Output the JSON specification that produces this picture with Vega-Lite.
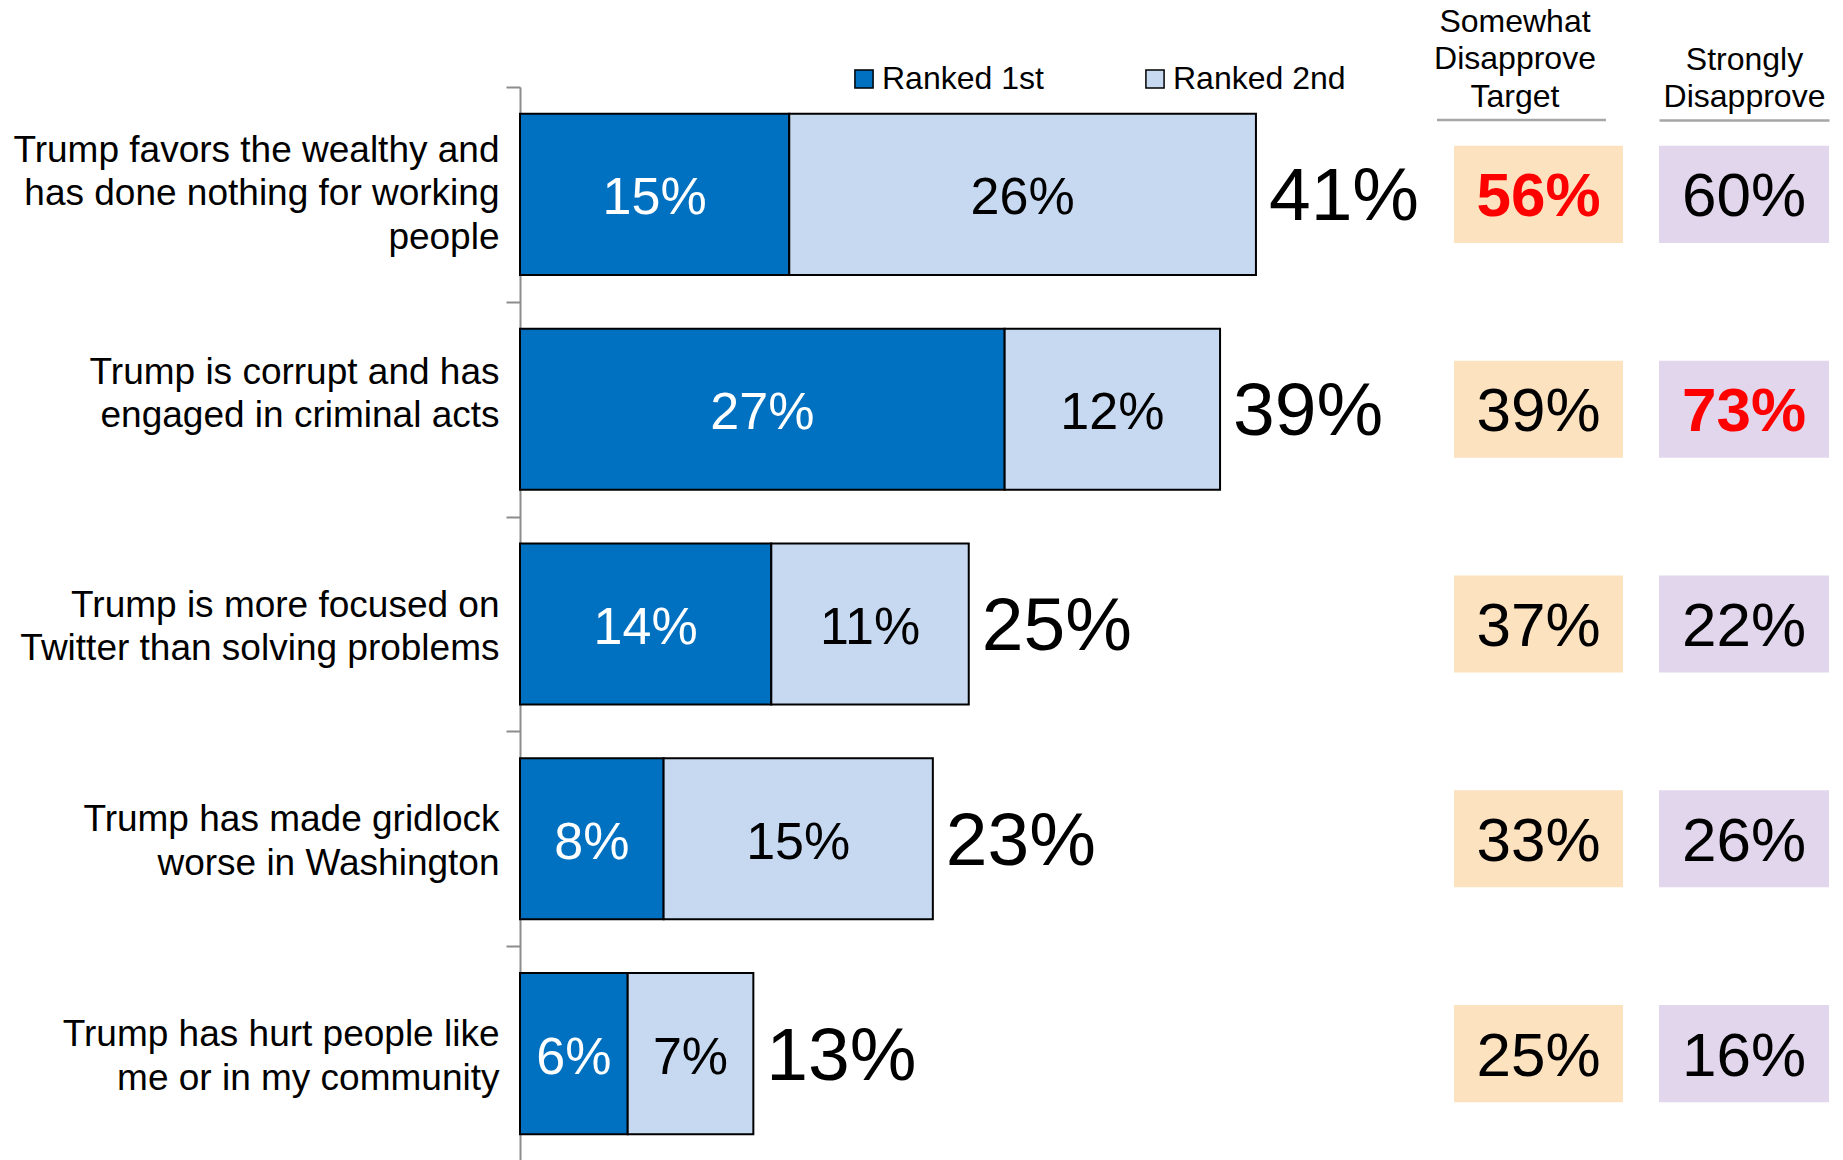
{
  "$schema": "https://vega.github.io/schema/vega-lite/v6.json",
  "background": "white",
  "padding": {"left": 12, "top": 22, "right": 10, "bottom": 0},
  "bounds": "flush",
  "spacing": 36,
  "config": {"font": "Liberation Sans", "view": {"stroke": null}},
  "datasets": {
    "main": [
      {"item": "Trump favors the wealthy and|has done nothing for working|people", "Ranked 1st": 15, "Ranked 2nd": 26, "total": 41, "somewhat": 56, "strongly": 60},
      {"item": "Trump is corrupt and has|engaged in criminal acts", "Ranked 1st": 27, "Ranked 2nd": 12, "total": 39, "somewhat": 39, "strongly": 73},
      {"item": "Trump is more focused on|Twitter than solving problems", "Ranked 1st": 14, "Ranked 2nd": 11, "total": 25, "somewhat": 37, "strongly": 22},
      {"item": "Trump has made gridlock|worse in Washington", "Ranked 1st": 8, "Ranked 2nd": 15, "total": 23, "somewhat": 33, "strongly": 26},
      {"item": "Trump has hurt people like|me or in my community", "Ranked 1st": 6, "Ranked 2nd": 7, "total": 13, "somewhat": 25, "strongly": 16}
    ]
  },
  "hconcat": [
    {
      "width": 897.5,
      "height": 1074,
      "data": {"name": "main"},
      "encoding": {
        "y": {
          "field": "item", "type": "nominal", "sort": null,
          "scale": {"paddingInner": 0.25, "paddingOuter": 0.125},
          "axis": {
            "title": null,
            "labelExpr": "datum.value ? split(datum.value, '|') : ''",
            "labelFontSize": 37, "labelLineHeight": 43.5, "labelColor": "black",
            "labelLimit": 700, "labelPadding": 7, "labelAlign": "right", "labelBaseline": "middle",
            "labelOffset": {
              "condition": [
                {"test": "datum.value && length(split(datum.value, '|')) == 3", "value": 63.4},
                {"test": "datum.value && indexof(datum.value, 'corrupt') >= 0", "value": 70.4}
              ],
              "value": 88.4
            },
            "tickOffset": -107.4, "tickSize": 14, "tickColor": "#8c8c8c", "tickWidth": 2,
            "domainColor": "#8c8c8c", "domainWidth": 2
          }
        }
      },
      "layer": [
        {
          "transform": [{"fold": ["Ranked 1st", "Ranked 2nd"], "as": ["key", "value"]}],
          "mark": {"type": "bar", "stroke": "black", "strokeWidth": 2},
          "encoding": {
            "x": {"field": "value", "type": "quantitative", "stack": "zero", "scale": {"domain": [0, 50], "nice": false, "zero": true}, "axis": null},
            "color": {
              "field": "key", "type": "nominal",
              "scale": {"domain": ["Ranked 1st", "Ranked 2nd"], "range": ["#0070C0", "#C6D9F1"]},
              "legend": {
                "orient": "none", "legendX": 328, "legendY": -24, "direction": "horizontal",
                "title": null, "symbolType": "square", "symbolSize": 330,
                "symbolStrokeColor": "black", "symbolStrokeWidth": 1.5,
                "labelFontSize": 32, "labelColor": "black", "labelLimit": 300,
                "labelOffset": 2, "columnPadding": 95, "padding": 0
              }
            },
            "order": {"field": "key"}
          }
        },
        {
          "transform": [
            {"fold": ["Ranked 1st", "Ranked 2nd"], "as": ["key", "value"]},
            {"stack": "value", "groupby": ["item"], "sort": [{"field": "key", "order": "ascending"}], "as": ["v0", "v1"]},
            {"calculate": "(datum.v0 + datum.v1) / 2", "as": "mid"},
            {"calculate": "datum.value + '%'", "as": "lab"}
          ],
          "mark": {"type": "text", "fontSize": 52, "baseline": "middle", "dy": 4},
          "encoding": {
            "x": {"field": "mid", "type": "quantitative"},
            "text": {"field": "lab"},
            "color": {"condition": {"test": "datum.key === 'Ranked 1st'", "value": "white"}, "value": "black"}
          }
        },
        {
          "transform": [{"calculate": "datum.total + '%'", "as": "tl"}],
          "mark": {"type": "text", "fontSize": 75, "align": "left", "dx": 13, "dy": 3, "baseline": "middle", "color": "black"},
          "encoding": {
            "x": {"field": "total", "type": "quantitative"},
            "text": {"field": "tl"}
          }
        }
      ]
    },
    {
      "width": 169,
      "height": 1074,
      "data": {"name": "main"},
      "transform": [
        {"joinaggregate": [{"op": "max", "field": "somewhat", "as": "mx"}]},
        {"calculate": "datum.somewhat + '%'", "as": "lab"}
      ],
      "encoding": {
        "y": {"field": "item", "type": "nominal", "sort": null, "scale": {"paddingInner": 0.548, "paddingOuter": 0.274}, "axis": null},
        "x": {
          "datum": "Somewhat Disapprove Target", "type": "nominal",
          "scale": {"paddingInner": 0, "paddingOuter": 0},
          "axis": {
            "orient": "top", "labels": false, "ticks": false, "domain": true,
            "domainColor": "#a6a6a6", "domainWidth": 2.5, "offset": -50, "translate": -17,
            "title": ["Somewhat", "Disapprove", "Target"],
            "titleFontSize": 32, "titleFontWeight": "normal", "titleLineHeight": 37.6,
            "titlePadding": 6, "titleColor": "black", "titleX": 78
          }
        }
      },
      "layer": [
        {"mark": {"type": "rect", "color": "#FDE2C0"}},
        {
          "transform": [{"filter": "datum.somewhat == datum.mx"}],
          "mark": {"type": "text", "fontSize": 62, "fontWeight": "bold", "color": "#FF0000", "baseline": "middle", "dy": 3},
          "encoding": {"text": {"field": "lab"}}
        },
        {
          "transform": [{"filter": "datum.somewhat != datum.mx"}],
          "mark": {"type": "text", "fontSize": 62, "color": "black", "baseline": "middle", "dy": 3},
          "encoding": {"text": {"field": "lab"}}
        }
      ]
    },
    {
      "width": 170,
      "height": 1074,
      "data": {"name": "main"},
      "transform": [
        {"joinaggregate": [{"op": "max", "field": "strongly", "as": "mx"}]},
        {"calculate": "datum.strongly + '%'", "as": "lab"}
      ],
      "encoding": {
        "y": {"field": "item", "type": "nominal", "sort": null, "scale": {"paddingInner": 0.548, "paddingOuter": 0.274}, "axis": null},
        "x": {
          "datum": "Strongly Disapprove", "type": "nominal",
          "scale": {"paddingInner": 0, "paddingOuter": 0},
          "axis": {
            "orient": "top", "labels": false, "ticks": false, "domain": true,
            "domainColor": "#a6a6a6", "domainWidth": 2.5, "offset": -33,
            "title": ["Strongly", "Disapprove"],
            "titleFontSize": 32, "titleFontWeight": "normal", "titleLineHeight": 37.6,
            "titlePadding": 6, "titleColor": "black"
          }
        }
      },
      "layer": [
        {"mark": {"type": "rect", "color": "#E2D6EC"}},
        {
          "transform": [{"filter": "datum.strongly == datum.mx"}],
          "mark": {"type": "text", "fontSize": 62, "fontWeight": "bold", "color": "#FF0000", "baseline": "middle", "dy": 3},
          "encoding": {"text": {"field": "lab"}}
        },
        {
          "transform": [{"filter": "datum.strongly != datum.mx"}],
          "mark": {"type": "text", "fontSize": 62, "color": "black", "baseline": "middle", "dy": 3},
          "encoding": {"text": {"field": "lab"}}
        }
      ]
    }
  ]
}
